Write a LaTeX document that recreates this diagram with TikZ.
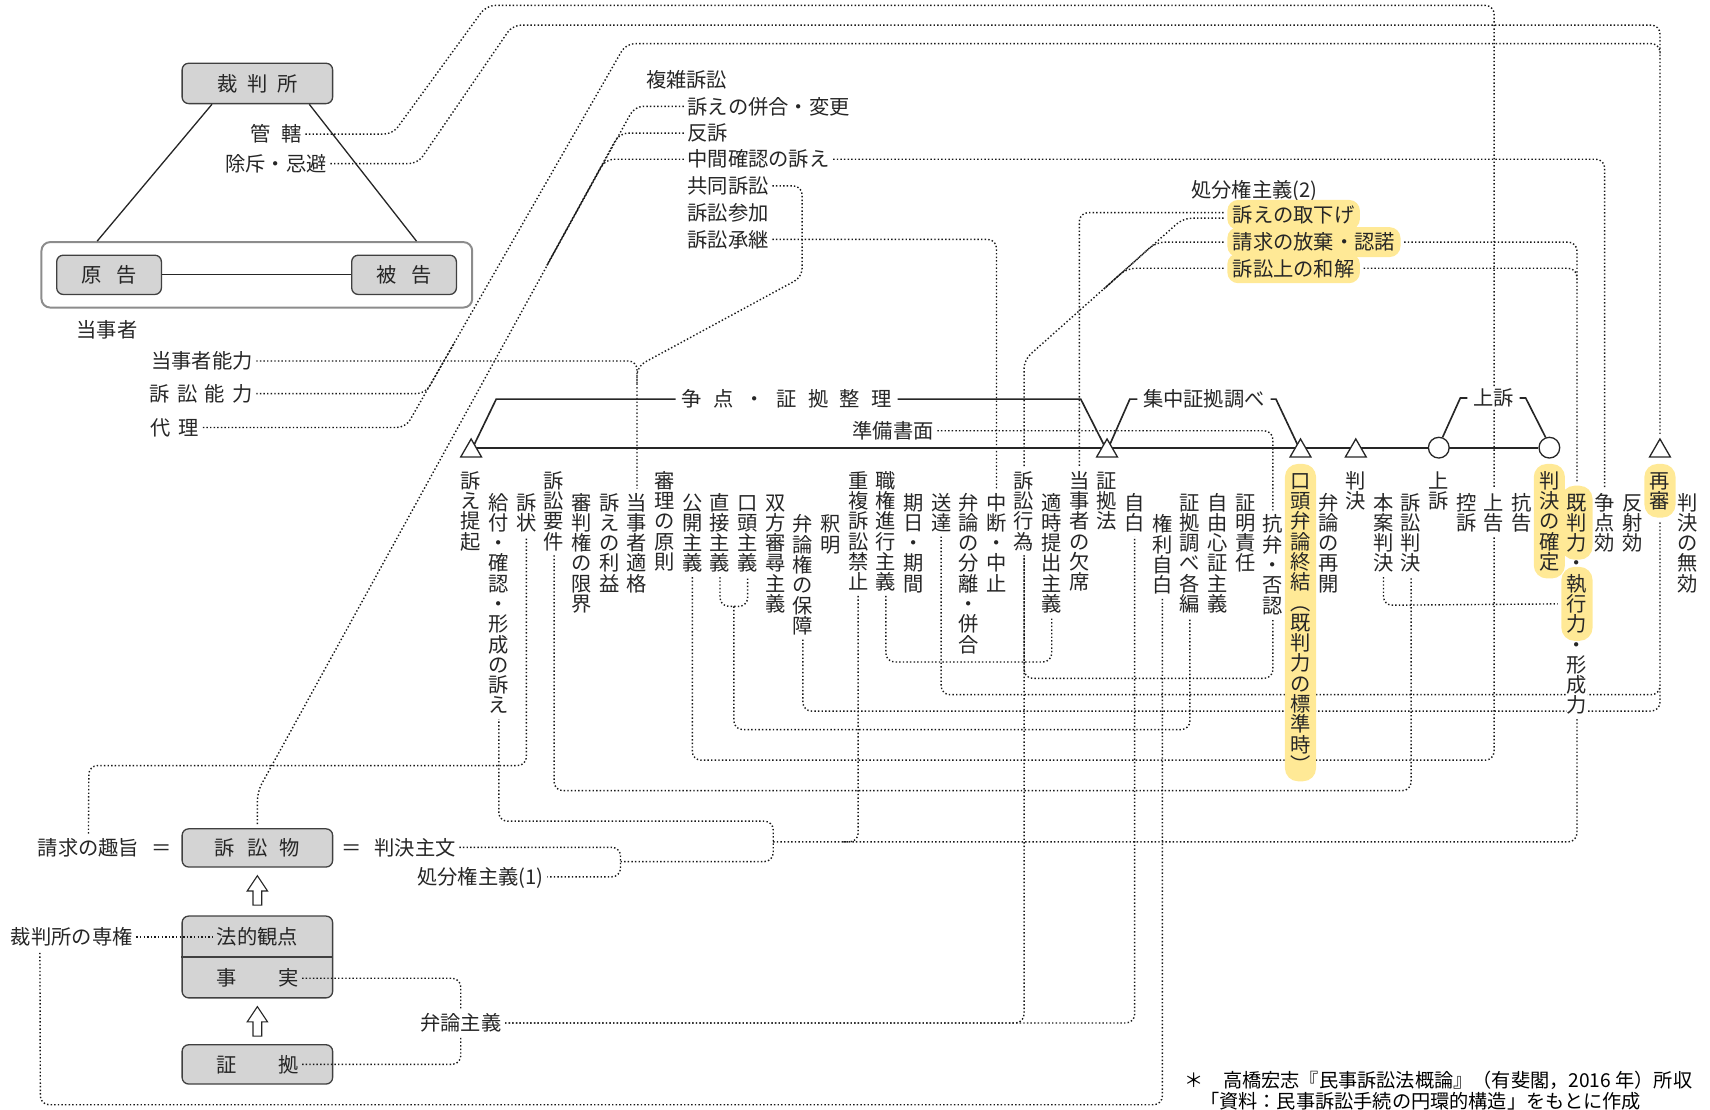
\documentclass[tikz,border=0pt]{standalone}
\usepackage{fontspec}
\setmainfont{Noto Sans CJK JP}
\usetikzlibrary{shapes.geometric,backgrounds}
\definecolor{hly}{RGB}{255,233,150}
\definecolor{boxgray}{RGB}{212,212,212}
\makeatletter
\newcommand\tatetext[1]{\vbox{\offinterlineskip\@tfor\tate@c:=#1\do{\hbox to 1em{\vrule height .88em depth .12em width 0pt\hss\tate@c\hss}}}}
\makeatother

\begin{document}
\begin{tikzpicture}[x=0.5pt, y=-0.5pt, font=\fontsize{9.3}{11}\selectfont, text=black!85]
	\tikzset{lbl/.style={inner sep=0pt, text height=8.2pt, text depth=1.1pt},
	col/.style={anchor=north, inner sep=0pt, fill=white},
	hl/.style={fill=hly, rounded corners=6pt, inner xsep=2.5pt, inner ysep=3pt, yshift=3pt},
	hlh/.style={fill=hly, rounded corners=5pt, inner xsep=2.5pt, inner ysep=2.2pt},
	brl/.style={lbl, fill=white, inner xsep=2.5pt},
	box/.style={draw=black!75, fill=boxgray, rounded corners=3pt, line width=.6pt, minimum width=69pt},
	dl/.style={draw=black!90, densely dotted, line width=.65pt, rounded corners=4pt, shorten <=1.5pt, shorten >=1.5pt},
	tl/.style={draw=black!85, line width=.9pt},
	br/.style={draw=black!85, line width=.75pt},
	tri/.style={regular polygon, regular polygon sides=3, draw=black!85, fill=white, line width=.6pt, minimum size=11pt, inner sep=0pt},
	rd/.style={circle, draw=black!85, fill=white, line width=.6pt, minimum size=9.5pt, inner sep=0pt},
	uparr/.pic={\draw[black!85, fill=white, line width=.5pt] (-4,14) -- (-4,1) -- (-9.3,1) -- (0,-13) -- (9.3,1) -- (4,1) -- (4,14) -- cycle;}};

	\useasboundingbox (0,0) rectangle (1568,1017);

	\node[draw=black!45, rounded corners=4pt, line width=.9pt, minimum width=197.5pt, minimum height=30pt, inner sep=0pt] (party) at (235.5,252) {};
	\node[box, lbl, minimum height=18.5pt] (court) at (236,76.5) {裁\kern4.5pt 判\kern4.5pt 所};
	\node[box, lbl, minimum width=48pt, minimum height=18pt] (gen) at (100,252) {原\kern6.5pt 告};
	\node[box, lbl, minimum width=48pt, minimum height=18pt] (hi) at (370.5,252) {被\kern6.5pt 告};
	\node[lbl, anchor=east] (kan) at (277,123) {管\kern5pt 轄};
	\node[lbl, anchor=east] (jyo) at (300,150) {除斥・忌避};
	\node[lbl] (tojisha) at (98,302) {当事者};
	\node[lbl, anchor=east] (tnoryoku) at (232,331) {当事者能力};
	\node[lbl, anchor=east] (snoryoku) at (232,361) {訴\kern3.3pt 訟\kern3.3pt 能\kern3.3pt 力};
	\node[lbl, anchor=east] (dairi) at (183,392) {代\kern3.9pt 理};

	\node[lbl, anchor=west] (fukuzatsu) at (592,73) {複雑訴訟};
	\node[lbl, anchor=west] (heigo) at (630,97.5) {訴えの併合・変更};
	\node[lbl, anchor=west] (hanso) at (630,122) {反訴};
	\node[lbl, anchor=west] (chukan) at (630,146) {中間確認の訴え};
	\node[lbl, anchor=west] (kyodo) at (630,170.5) {共同訴訟};
	\node[lbl, anchor=west] (sanka) at (630,195) {訴訟参加};
	\node[lbl, anchor=west] (shokei) at (630,219.5) {訴訟承継};
	\node[lbl, anchor=west] (shobun2) at (1092,174) {処分権主義(2)};
	\node[lbl, hlh, anchor=west] (torisage) at (1125,197) {訴えの取下げ};
	\node[lbl, hlh, anchor=west] (hoki) at (1125,222) {請求の放棄・認諾};
	\node[lbl, hlh, anchor=west] (wakai) at (1125,246) {訴訟上の和解};

	\node[col] (teiki) at (432,431) {\tatetext{訴え提起}};
	\node[col] (kyufu) at (457.4,451) {\tatetext{給付・確認・形成の訴え}};
	\node[col] (sojo) at (482.7,451) {\tatetext{訴状}};
	\node[col] (yoken) at (508.1,431) {\tatetext{訴訟要件}};
	\node[col] (shinpan) at (533.4,451) {\tatetext{審判権の限界}};
	\node[col] (rieki) at (558.8,451) {\tatetext{訴えの利益}};
	\node[col] (tekikaku) at (584.1,451) {\tatetext{当事者適格}};
	\node[col] (shinri) at (609.5,431) {\tatetext{審理の原則}};
	\node[col] (kokai) at (634.8,451) {\tatetext{公開主義}};
	\node[col] (chokusetsu) at (660.2,451) {\tatetext{直接主義}};
	\node[col] (koto) at (685.5,451) {\tatetext{口頭主義}};
	\node[col] (sohou) at (710.9,451) {\tatetext{双方審尋主義}};
	\node[col] (hosho) at (736.2,471) {\tatetext{弁論権の保障}};
	\node[col] (shakumei) at (761.6,471) {\tatetext{釈明}};
	\node[col] (chofuku) at (786.9,431) {\tatetext{重複訴訟禁止}};
	\node[col] (shokken) at (812.3,431) {\tatetext{職権進行主義}};
	\node[col] (kijitsu) at (837.6,451) {\tatetext{期日・期間}};
	\node[col] (sotatsu) at (863,451) {\tatetext{送達}};
	\node[col] (bunri) at (888.3,451) {\tatetext{弁論の分離・併合}};
	\node[col] (chudan) at (913.7,451) {\tatetext{中断・中止}};
	\node[col] (koi) at (939,431) {\tatetext{訴訟行為}};
	\node[col] (tekiji) at (964.4,451) {\tatetext{適時提出主義}};
	\node[col] (kesseki) at (989.7,431) {\tatetext{当事者の欠席}};
	\node[col] (shokoho) at (1015.1,431) {\tatetext{証拠法}};
	\node[col] (jihaku) at (1040.4,451) {\tatetext{自白}};
	\node[col] (kenri) at (1065.8,471) {\tatetext{権利自白}};
	\node[col] (shirabe) at (1091.1,451) {\tatetext{証拠調べ各編}};
	\node[col] (jiyu) at (1116.5,451) {\tatetext{自由心証主義}};
	\node[col] (shomei) at (1141.8,451) {\tatetext{証明責任}};
	\node[col] (kouben) at (1167.2,471) {\tatetext{抗弁・否認}};
	\node[col] (saikai) at (1217.9,451) {\tatetext{弁論の再開}};
	\node[col] (hanketsu) at (1243.2,431) {\tatetext{判決}};
	\node[col] (honan) at (1268.6,451) {\tatetext{本案判決}};
	\node[col] (sohan) at (1293.9,451) {\tatetext{訴訟判決}};
	\node[col] (josocol) at (1319.3,431) {\tatetext{上訴}};
	\node[col] (koso) at (1344.6,451) {\tatetext{控訴}};
	\node[col] (jokoku) at (1370,451) {\tatetext{上告}};
	\node[col] (kokoku) at (1395.3,451) {\tatetext{抗告}};
	\node[col, fill=none] (kdot) at (1446,506.8) {\tatetext{・}};
	\node[col] (keisei) at (1446,581.2) {\tatetext{・形成力}};
	\node[col] (soten) at (1471.4,451) {\tatetext{争点効}};
	\node[col] (hansha) at (1496.7,451) {\tatetext{反射効}};
	\node[col] (muko) at (1547.4,451) {\tatetext{判決の無効}};
	\node[col, hl] (shuketsu) at (1192.5,431) {\tatetext{口頭弁論終結︵既判力の標準時︶}};
	\node[col, hl] (kakutei) at (1420.7,431) {\tatetext{判決の確定}};
	\node[col, hl] (kihan) at (1446,451) {\tatetext{既判力}};
	\node[col, hl] (shikko) at (1446,525.4) {\tatetext{執行力}};
	\node[col, hl] (saishin) at (1522.1,431) {\tatetext{再審}};

	\node[brl] (seiri) at (721.3,366) {争\kern5.2pt 点\kern5.2pt ・\kern5.2pt 証\kern5.2pt 拠\kern5.2pt 整\kern5.2pt 理};
	\node[brl] (shuchu) at (1104,366) {集中証拠調べ};
	\node[brl] (joso) at (1369.5,365) {上訴};
	\node[lbl, anchor=east] (junbi) at (856.5,395) {準備書面};
	\node[tri] (tTeiki) at (432,413.5) {};
	\node[tri] (tShoko) at (1015.1,413.5) {};
	\node[tri] (tShuketsu) at (1192.5,413.5) {};
	\node[tri] (tHanketsu) at (1243.2,413.5) {};
	\node[tri] (tSaishin) at (1522.1,413.5) {};
	\node[rd] (cJoso) at (1319.3,410.5) {};
	\node[rd] (cKakutei) at (1420.7,410.5) {};

	\node[box, lbl, minimum height=17.5pt] (sosho) at (236,777.5) {訴\kern5.5pt 訟\kern5.5pt 物};
	\node[box, minimum height=37.5pt] (fbox) at (236,877.5) {};
	\node[box, minimum height=18pt] (sbox) at (236,976) {};
	\node[lbl] (hoteki) at (236,859) {法的観点};
	\node[lbl] (jijitsu) at (236,897) {事\kern19pt 実};
	\node[lbl] (shoko) at (236,976) {証\kern19pt 拠};
	\node[lbl, anchor=east] (shushi) at (128,777) {請求の趣旨};
	\node[lbl] (eq1) at (148,777) {＝};
	\node[lbl] (eq2) at (322,777) {＝};
	\node[lbl, anchor=west] (shubun) at (343,777) {判決主文};
	\node[lbl, anchor=east] (shobun1) at (499,804) {処分権主義(1)};
	\node[lbl, anchor=east] (senken) at (122,859) {裁判所の専権};
	\node[lbl] (benron) at (422.5,938) {弁論主義};

	\node[lbl, anchor=west, text=black, font=\fontsize{8.8}{10}\selectfont] (note1) at (1086,990) {＊\quad 高橋宏志『民事訴訟法概論』（有斐閣，2016 年）所収};
	\node[lbl, anchor=west, text=black, font=\fontsize{8.8}{10}\selectfont] (note2) at (1100,1009) {「資料：民事訴訟手続の円環的構造」をもとに作成};

	\begin{pgfonlayer}{background}
	\draw[dl] (kan.east) -- (360,123) -- (446,5) -- (1370,5) -- (jokoku.north);
	\draw[dl] (jyo.east) -- (383,150) -- (470,23) -- (1522.1,23) -- (tSaishin.north);
	\draw[dl] (dairi.east) -- (372,392) -- (574,40) -- (1522.1,40) -- (1522.1,52);
	\draw[dl] (snoryoku.east) -- (390,361) -- (418,312);
	\draw[dl] (tnoryoku.east) -- (584.1,331) -- (tekikaku.north);
	\draw[dl] (kyodo.east) -- (735.5,170.5) -- (735.5,254) -- (584.1,336) -- (584.1,356);
	\draw[dl] (heigo.west) -- (582,97.5) -- (236,726) -- (sosho.north);
	\draw[dl] (hanso.west) -- (568,122) -- (500,246);
	\draw[dl] (chukan.west) -- (555,146) -- (500,246);
	\draw[dl] (chukan.east) -- (1471.4,146) -- (soten.north);
	\draw[dl] (shokei.east) -- (913.7,219.5) -- (chudan.north);
	\draw[dl] ([yshift=1pt]torisage.west) -- (989.7,195) -- (kesseki.north);
	\draw[dl] ([yshift=-1.5pt]torisage.west) -- (1085,200) -- (939,330) -- (koi.north);
	\draw[dl] (hoki.west) -- (1060,222) -- (1010,267);
	\draw[dl] (wakai.west) -- (1033,246) -- (1010,267);
	\draw[dl] (hoki.east) -- (1446,222) -- (kihan.north);
	\draw[dl] (wakai.east) -- (1446,246) -- (1446,262);
	\draw[dl] (junbi.east) -- (1167.2,395) -- (kouben.north);
	\draw[dl] (koi.south) -- (939,622) -- (1167.2,622) -- (kouben.south);
	\draw[dl] (benron.east) -- (939,938) -- (koi.south);
	\draw[dl] (benron.east) -- (1040.4,938) -- (jihaku.south);
	\draw[dl] (shokken.south) -- (812.3,607) -- (964.4,607) -- (tekiji.south);
	\draw[dl] (sotatsu.south) -- (863,637) -- (1522.1,637) -- (saishin.south);
	\draw[dl] (hosho.south) -- (736.2,652) -- (1522.1,652) -- (1522.1,628);
	\coordinate (jk) at (672.9,556);
	\draw[dl] (chokusetsu.south) -- (660.2,556) -- (685.5,556) -- (koto.south);
	\draw[dl, shorten <=0pt] (jk) -- (672.9,669) -- (1091.1,669) -- (shirabe.south);
	\draw[dl] (kokai.south) -- (634.8,697) -- (1370,697) -- (jokoku.south);
	\draw[dl] (yoken.south) -- (508.1,725) -- (1293.9,725) -- (sohan.south);
	\draw[dl] (shushi.north) -- (81.5,702) -- (482.7,702) -- (sojo.south);
	\draw[dl] (shubun.east) -- (569,777) -- (569,804) -- (shobun1.east);
	\coordinate (bk) at (569,790);
	\coordinate (jn) at (709,772);
	\draw[dl, shorten <=0pt] (bk) -- (709,790) -- (709,753) -- (457.4,753) -- (kyufu.south);
	\draw[dl, shorten <=0pt] (jn) -- (1446,772) -- (keisei.south);
	\draw[dl] (chofuku.south) -- (786.9,772) -- (770,772);
	\draw[dl] (honan.south) -- (1268.6,555) -- (shikko.west);
	\draw[dl] (kenri.south) -- (1065.8,1013) -- (37,1013) -- ([xshift=13.5pt]senken.south west);

	\draw[tl] (tTeiki |- cKakutei) -- (cKakutei);
	\draw[br] (tTeiki.center) -- (455,366) -- (seiri.west);
	\draw[br] (seiri.east) -- (991,366) -- (tShoko.center);
	\draw[br] (tShoko.center) -- (1036,366) -- (shuchu.west);
	\draw[br] (shuchu.east) -- (1170,366) -- (tShuketsu.center);
	\draw[br] (cJoso.70) -- (1339,365) -- (joso.west);
	\draw[br] (joso.east) -- (1399,365) -- (cKakutei.110);
	\end{pgfonlayer}

	\draw[black!85, line width=.6pt] ([xshift=14pt]court.south west) -- ([xshift=26pt]party.north west);
	\draw[black!85, line width=.6pt] ([xshift=-11pt]court.south east) -- ([xshift=-26pt]party.north east);
	\draw[black!85, line width=.6pt] (gen) -- (hi);
	\draw[black!75, line width=.6pt] (fbox.west) -- (fbox.east);
	\pic at (236,816) {uparr};
	\pic at (236,936) {uparr};
	\draw[dl] (senken.east) -- (hoteki.west);
	\draw[dl] (jijitsu.east) -- (422.5,897) -- (benron.north);
	\draw[dl] (shoko.east) -- (422.5,976) -- (benron.south);
\end{tikzpicture}
\end{document}
